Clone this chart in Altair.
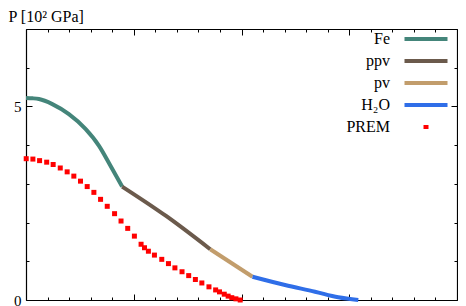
import altair as alt
import pandas as pd

# ---- data (x: radius in Earth radii, y: pressure in 10^2 GPa) ----
series_names = ["Fe", "ppv", "pv", "H₂O", "PREM"]
series_colors = ["#44857a", "#6b5a4c", "#c29d6c", "#2f6ee8", "#ff0000"]

fe_r = [0.0, 0.03, 0.06, 0.122, 0.199, 0.276, 0.338, 0.392, 0.446]
fe_p = [5.22, 5.21, 5.19, 5.06, 4.80, 4.42, 3.99, 3.47, 2.93]

ppv_r = [0.446, 0.65, 0.855]
ppv_p = [2.93, 2.17, 1.31]

pv_r = [0.855, 1.051]
pv_p = [1.31, 0.60]

h2o_r = [1.051, 1.202, 1.341, 1.449, 1.542]
h2o_p = [0.60, 0.386, 0.214, 0.07, 0.0]

prem_r = [0.001, 0.032, 0.063, 0.096, 0.126, 0.159, 0.191, 0.222, 0.253, 0.284,
          0.315, 0.346, 0.377, 0.411, 0.441, 0.472, 0.503, 0.534, 0.550, 0.568,
          0.596, 0.630, 0.661, 0.691, 0.724, 0.755, 0.786, 0.816, 0.849, 0.880,
          0.898, 0.920, 0.938, 0.955, 0.974, 0.994]
prem_p = [3.65, 3.64, 3.60, 3.56, 3.50, 3.41, 3.31, 3.20, 3.07, 2.93,
          2.78, 2.60, 2.42, 2.23, 2.04, 1.85, 1.65, 1.44, 1.35, 1.26,
          1.16, 1.05, 0.94, 0.83, 0.73, 0.63, 0.53, 0.44, 0.34, 0.26,
          0.21, 0.15, 0.10, 0.06, 0.03, 0.0]

x_ticks = [round(i * 0.1, 1) for i in range(21)]
y_ticks = list(range(8))

# ---- tables ----
rows = []
for name, rs, ps in [("Fe", fe_r, fe_p), ("ppv", ppv_r, ppv_p),
                     ("pv", pv_r, pv_p), ("H₂O", h2o_r, h2o_p)]:
    for r, p in zip(rs, ps):
        rows.append({"series": name, "r": r, "p": p})
lines_df = pd.DataFrame(rows)
prem_df = pd.DataFrame({"series": "PREM", "r": prem_r, "p": prem_p})

font = "Liberation Serif"
xscale = alt.Scale(domain=[0, 2], nice=False, zero=False)
yscale = alt.Scale(domain=[0, 7], nice=False)

x_tick_expr = "abs(datum.value*2 - round(datum.value*2)) < 0.001 ? -6 : -3"
y_tick_expr = "datum.value % 5 == 0 ? -6 : -3"
y_label_expr = "datum.value == 0 || datum.value == 5 ? datum.label : ''"

common_axis = dict(domainColor="black", domainWidth=1.2, tickColor="black",
                   tickWidth=1, grid=False)

axis_bottom = alt.Axis(orient="bottom", values=x_ticks, labels=False, title=None,
                       tickSize={"expr": x_tick_expr}, **common_axis)
axis_top = alt.Axis(orient="top", values=x_ticks, labels=False, title=None,
                    tickSize={"expr": x_tick_expr}, **common_axis)
axis_left = alt.Axis(orient="left", values=y_ticks, labelExpr=y_label_expr,
                     labelFont=font, labelFontSize=15, labelColor="black",
                     labelPadding=11,
                     tickSize={"expr": y_tick_expr},
                     title="P [10² GPa]", titleFont=font, titleFontSize=16,
                     titleFontWeight="normal", titleColor="black", titleAngle=0,
                     titleAlign="left", titleBaseline="alphabetic",
                     titleX=-18, titleY=-8, **common_axis)
axis_right = alt.Axis(orient="right", values=y_ticks, labels=False, title=None,
                      tickSize={"expr": y_tick_expr}, **common_axis)

legend = alt.Legend(
    title=None, orient="none", legendX=392, legendY=2, padding=0,
    labelFont=font, labelFontSize=16, labelColor="black",
    labelAlign="right", labelOffset={"expr": "-44"}, rowPadding=6,
    symbolSize=100, symbolStrokeWidth=4, symbolOpacity=1,
    symbolFillColor="transparent",
    symbolType={"expr": "datum.value === 'PREM' ? 'M-0.5,0H0.5' : 'M-4.3,0H4.3'"},
)

lines = alt.Chart(lines_df).mark_line(strokeWidth=4, interpolate="monotone",
                                      strokeCap="butt").encode(
    x=alt.X("r:Q", scale=xscale, axis=axis_bottom),
    y=alt.Y("p:Q", scale=yscale, axis=axis_left),
    color=alt.Color("series:N",
                    scale=alt.Scale(domain=series_names, range=series_colors),
                    legend=legend),
)

prem = alt.Chart(prem_df).mark_square(size=25, filled=True, opacity=1,
                                      color="#ff0000").encode(
    x=alt.X("r:Q", scale=xscale, axis=axis_top),
    y=alt.Y("p:Q", scale=yscale, axis=axis_right),
)

chart = alt.layer(lines, prem).resolve_axis(
    x="independent", y="independent"
).properties(
    width=431, height=271, background="white", padding=0
).configure_view(stroke=None).configure_axis(
    labelFont=font, titleFont=font
)

chart.save("out.html", embed_options={"renderer": "svg", "actions": False})
